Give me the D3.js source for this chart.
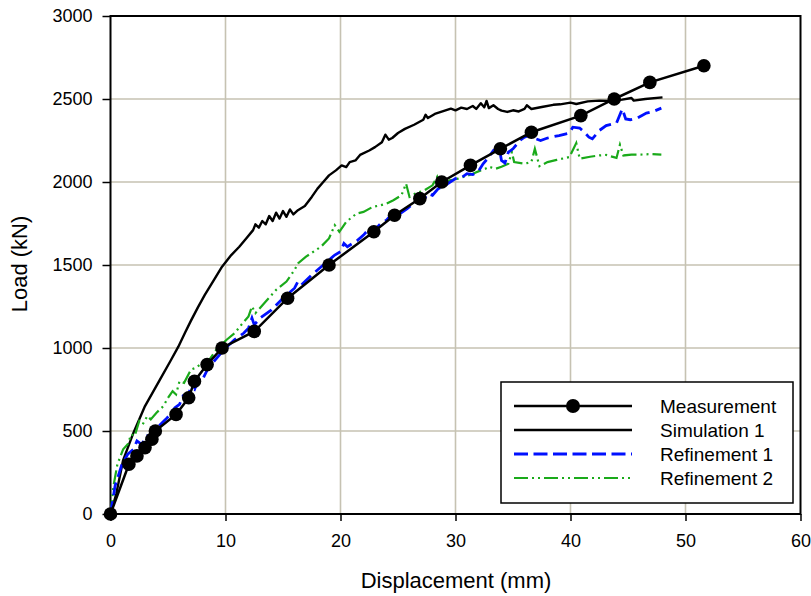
<!DOCTYPE html>
<html>
<head>
<meta charset="utf-8">
<script src="https://cdn.jsdelivr.net/npm/d3@7"></script>
<style>
  body { margin: 0; background: #fff; }
  text { font-family: "Liberation Sans", Arial, sans-serif; fill: #000; }
</style>
</head>
<body>
<div class="canva"></div>
<script>
// measured load-displacement points
const measX = [0, 1.6, 2.3, 3.0, 3.6, 3.9, 5.7, 6.8, 7.3, 8.4, 9.7, 12.5, 15.4, 19.0, 22.9, 24.7, 26.9, 28.8, 31.3, 33.9, 36.6, 40.9, 43.8, 46.9, 51.6];
const measY = [0, 300, 350, 400, 450, 500, 600, 700, 800, 900, 1000, 1100, 1300, 1500, 1700, 1800, 1900, 2000, 2100, 2200, 2300, 2400, 2500, 2600, 2700];

const sim1X = [0, 0.5, 1.1, 2, 3, 4.3, 5.2, 5.9, 6.5, 7.0, 7.6, 8.2, 9, 9.7, 10.5, 11.2, 11.8, 12.4, 12.6, 12.9, 13.2, 13.5, 13.8, 14.1, 14.4, 14.7, 15.0, 15.3, 15.6, 15.9, 16.3, 16.9, 17.5, 18.0, 18.5, 19.0, 19.6, 20.1, 20.5, 20.8, 21.3, 21.7, 22.5, 23.0, 23.6, 23.9, 24.2, 24.5, 25.0, 25.6, 26.4, 27.2, 27.4, 27.6, 28.2, 29.0, 29.6, 30.0, 30.5, 31.0, 31.5, 31.8, 32.2, 32.5, 32.7, 32.9, 33.3, 33.7, 34.0, 34.5, 35.0, 35.5, 36.0, 36.2, 36.6, 37.5, 38.5, 39.1, 40.0, 40.5, 41.5, 42.5, 43.5, 44.5, 45.3, 45.5, 46.5, 48];
const sim1Y = [0, 120, 325, 490, 650, 810, 920, 1008, 1095, 1165, 1245, 1320, 1410, 1490, 1560, 1610, 1660, 1710, 1745, 1725, 1765, 1745, 1795, 1765, 1815, 1780, 1825, 1790, 1835, 1805, 1830, 1855, 1910, 1960, 2000, 2040, 2070, 2100, 2090, 2120, 2130, 2163, 2190, 2210, 2240, 2285, 2255, 2265, 2295, 2320, 2345, 2375, 2405, 2385, 2410, 2428, 2442, 2432, 2448, 2440, 2458, 2440, 2475, 2450, 2488, 2445, 2462, 2440, 2430, 2422, 2432, 2425, 2440, 2462, 2440, 2452, 2465, 2468, 2478, 2470, 2486, 2490, 2488, 2496, 2506, 2490, 2500, 2510];

const ref1X = [0, 0.4, 1.0, 1.5, 2.0, 2.3, 2.7, 3.2, 3.6, 4.2, 4.8, 5.2, 5.6, 6.0, 6.3, 6.6, 7.0, 7.3, 7.7, 8.0, 8.5, 9.0, 9.5, 10.0, 10.8, 11.6, 12.0, 12.3, 12.5, 13.0, 14.0, 15.0, 16.0, 16.3, 16.6, 17.5, 18.5, 19.5, 20.0, 20.3, 20.6, 21.5, 22.0, 22.5, 22.9, 23.5, 24.0, 24.5, 25.0, 25.8, 26.5, 27.3, 27.6, 28.0, 28.5, 29.1, 30.0, 30.6, 31.0, 31.5, 32.0, 32.4, 32.9, 33.3, 33.8, 34.0, 34.3, 34.6, 35.0, 35.6, 36.0, 36.5, 37.0, 37.4, 38.0, 39.0, 39.9, 40.2, 40.8, 41.2, 41.6, 41.9, 42.5, 43.1, 44.0, 44.5, 44.8, 45.2, 45.8, 46.6, 47.2, 47.9];
const ref1Y = [0, 170, 300, 360, 390, 440, 420, 470, 460, 530, 570, 600, 640, 660, 710, 700, 760, 750, 820, 810, 880, 920, 960, 1000, 1050, 1090, 1120, 1180, 1140, 1180, 1230, 1300, 1360, 1400, 1380, 1440, 1500, 1560, 1580, 1630, 1610, 1650, 1680, 1720, 1705, 1750, 1770, 1810, 1800, 1840, 1880, 1900, 1930, 1920, 1960, 1980, 2020, 2030, 2050, 2045, 2065, 2110, 2150, 2190, 2205, 2130, 2115, 2180, 2200, 2250, 2270, 2285, 2260, 2250, 2265, 2280, 2295, 2330, 2325, 2300, 2270, 2260, 2310, 2340, 2355, 2440, 2380, 2375, 2385, 2415, 2425, 2445];

const ref2X = [0, 0.25, 0.6, 1.1, 1.5, 1.8, 2.1, 2.5, 2.8, 3.2, 3.5, 4.0, 4.6, 5.0, 5.4, 5.7, 6.0, 6.4, 7.0, 7.4, 8.0, 8.6, 9.2, 10.1, 10.8, 11.5, 12.0, 12.3, 12.6, 13.5, 14.4, 15.3, 16.0, 16.3, 17.0, 18.3, 19.0, 19.5, 19.9, 20.5, 21.4, 22.0, 22.8, 23.5, 24.0, 24.6, 25.3, 25.7, 26.0, 26.5, 27.3, 28.0, 28.4, 28.6, 29.5, 30.2, 30.9, 31.5, 32.2, 32.6, 32.9, 33.5, 34.0, 34.6, 34.9, 35.1, 36.0, 36.6, 36.9, 37.3, 38.0, 38.8, 39.9, 40.5, 40.8, 41.7, 42.5, 43.1, 44.0, 44.3, 44.6, 45.3, 46.0, 47.0, 47.9];
const ref2Y = [0, 165, 300, 390, 420, 480, 470, 560, 540, 590, 570, 610, 650, 700, 740, 720, 800, 790, 870, 880, 910, 930, 990, 1050, 1090, 1150, 1190, 1250, 1210, 1280, 1350, 1400, 1470, 1510, 1550, 1610, 1660, 1740, 1700, 1760, 1810, 1820, 1850, 1860, 1870, 1890, 1920, 1990, 1910, 1930, 1950, 1980, 2030, 1970, 2010, 2020, 2035, 2050, 2070, 2080, 2092, 2080, 2092, 2110, 2180, 2120, 2110, 2120, 2200, 2095, 2120, 2133, 2150, 2235, 2140, 2152, 2160, 2163, 2145, 2225, 2160, 2165, 2165, 2168, 2165];

const xTicks = [0, 10, 20, 30, 40, 50, 60];
const yTicks = [0, 500, 1000, 1500, 2000, 2500, 3000];
const seriesNames = ["Measurement", "Simulation 1", "Refinement 1", "Refinement 2"];

const canvas = d3.select(".canva");
const svg = canvas.append("svg").attr("width", 811).attr("height", 596);

const mLeft = 110.5, mRight = 800.5, mTop = 16, mBottom = 514;

const x = d3.scaleLinear().domain([0, 60]).range([mLeft, mRight]);
const y = d3.scaleLinear().domain([0, 3000]).range([mBottom, mTop]);

// grid
svg
  .append("g")
  .selectAll("line")
  .data(xTicks.slice(1, -1))
  .join("line")
  .attr("x1", d => x(d))
  .attr("x2", d => x(d))
  .attr("y1", mTop)
  .attr("y2", mBottom)
  .attr("stroke", "#c6c2b2")
  .attr("stroke-width", 1.6);

svg
  .append("g")
  .selectAll("line")
  .data(yTicks.slice(1, -1))
  .join("line")
  .attr("x1", mLeft)
  .attr("x2", mRight)
  .attr("y1", d => y(d))
  .attr("y2", d => y(d))
  .attr("stroke", "#c6c2b2")
  .attr("stroke-width", 1.6);

// axes
const xAxis = svg
  .append("g")
  .attr("transform", `translate(0,${mBottom})`)
  .call(d3.axisBottom(x).tickValues(xTicks).tickFormat(d3.format("d")).tickSize(7).tickPadding(13));
const yAxis = svg
  .append("g")
  .attr("transform", `translate(${mLeft},0)`)
  .call(d3.axisLeft(y).tickValues(yTicks).tickFormat(d3.format("d")).tickSize(8).tickPadding(10));

[xAxis, yAxis].forEach(a => {
  a.select(".domain").remove();
  a.selectAll("line").attr("stroke", "#000").attr("stroke-width", 1.5);
  a.selectAll("text")
    .attr("font-size", 18)
    .attr("font-family", "'Liberation Sans', Arial, sans-serif")
    .attr("fill", "#000");
});

// frame
svg
  .append("rect")
  .attr("x", mLeft)
  .attr("y", mTop)
  .attr("width", mRight - mLeft)
  .attr("height", mBottom - mTop)
  .attr("fill", "none")
  .attr("stroke", "#000")
  .attr("stroke-width", 2);

const line = d3.line().x(d => x(d[0])).y(d => y(d[1]));
const zip = (a, b) => a.map((v, i) => [v, b[i]]);

svg
  .append("path")
  .datum(zip(sim1X, sim1Y))
  .attr("d", line)
  .attr("fill", "none")
  .attr("stroke", "#000")
  .attr("stroke-width", 2.4)
  .attr("stroke-linejoin", "round");

svg
  .append("path")
  .datum(zip(ref2X, ref2Y))
  .attr("d", line)
  .attr("fill", "none")
  .attr("stroke", "#1aaa1a")
  .attr("stroke-width", 2.2)
  .attr("stroke-dasharray", "14,4,2,4,2,4");

svg
  .append("path")
  .datum(zip(ref1X, ref1Y))
  .attr("d", line)
  .attr("fill", "none")
  .attr("stroke", "#0010ff")
  .attr("stroke-width", 2.8)
  .attr("stroke-dasharray", "13,6");

svg
  .append("path")
  .datum(zip(measX, measY))
  .attr("d", line)
  .attr("fill", "none")
  .attr("stroke", "#000")
  .attr("stroke-width", 2.5);

svg
  .append("g")
  .selectAll("circle")
  .data(zip(measX, measY))
  .join("circle")
  .attr("cx", d => x(d[0]))
  .attr("cy", d => y(d[1]))
  .attr("r", 6.8)
  .attr("fill", "#000");

// axis titles
svg
  .append("text")
  .text("Displacement (mm)")
  .attr("font-size", 22)
  .attr("text-anchor", "middle")
  .attr("x", 456)
  .attr("y", 588);

svg
  .append("text")
  .text("Load (kN)")
  .attr("font-size", 22)
  .attr("text-anchor", "middle")
  .attr("transform", "translate(27,264) rotate(-90)");

// legend
const lg = svg.append("g");
lg.append("rect")
  .attr("x", 501)
  .attr("y", 382)
  .attr("width", 292)
  .attr("height", 121)
  .attr("fill", "#fff")
  .attr("stroke", "#000")
  .attr("stroke-width", 1.5);

const styles = [
  { stroke: "#000", w: 2.5, dash: null },
  { stroke: "#000", w: 2.5, dash: null },
  { stroke: "#0010ff", w: 3, dash: "14,5.5" },
  { stroke: "#1aaa1a", w: 2.2, dash: "14,4,2,4,2,4" }
];

seriesNames.forEach((name, i) => {
  const yy = 406 + i * 24;
  lg.append("line")
    .attr("x1", 514)
    .attr("x2", 632)
    .attr("y1", yy)
    .attr("y2", yy)
    .attr("stroke", styles[i].stroke)
    .attr("stroke-width", styles[i].w)
    .attr("stroke-dasharray", styles[i].dash);
  lg.append("text")
    .text(name)
    .attr("font-size", 19)
    .attr("x", 660)
    .attr("y", yy + 7);
});

lg.append("circle").attr("cx", 573).attr("cy", 406).attr("r", 7).attr("fill", "#000");
</script>
</body>
</html>
